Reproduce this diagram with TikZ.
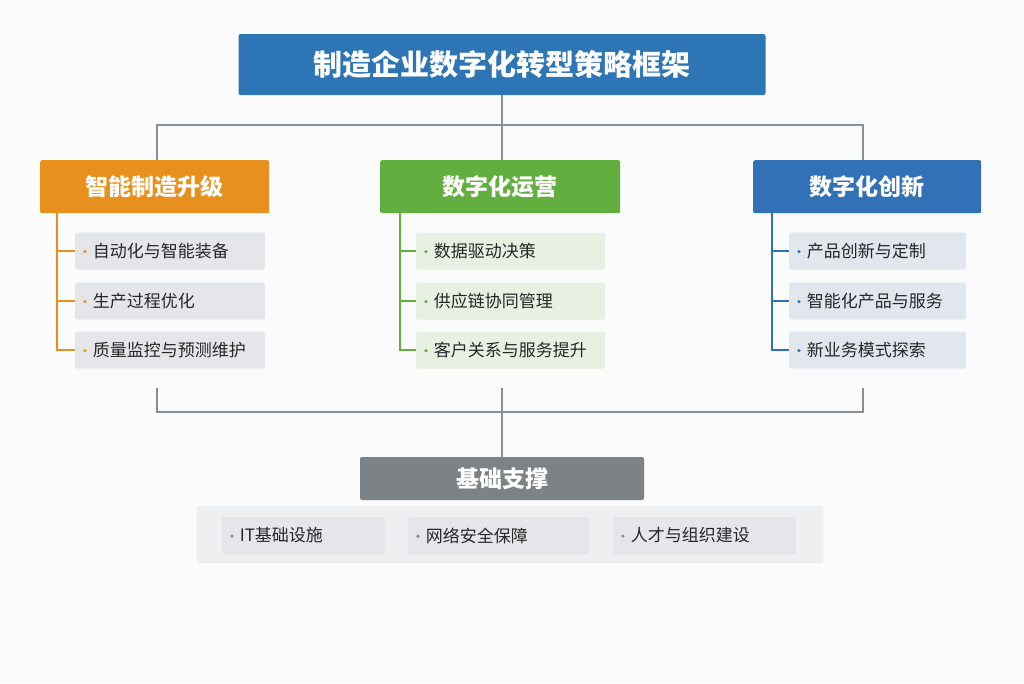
\documentclass[tikz,border=0pt]{standalone}
\usepackage{fontspec}
\setmainfont{Noto Sans CJK SC}
\usepackage{xcolor}
\definecolor{topblue}{HTML}{2E75B6}
\definecolor{catorange}{HTML}{E8901E}
\definecolor{catgreen}{HTML}{62AE3E}
\definecolor{catblue}{HTML}{3271B5}
\definecolor{basegray}{HTML}{7D8286}
\definecolor{linegray}{HTML}{8A8F93}
\definecolor{itemgray}{HTML}{E4E6E9}
\definecolor{itemgreen}{HTML}{E8F0E2}
\definecolor{itemblue}{HTML}{E2E7EE}
\definecolor{panelgray}{HTML}{EEEFF0}
\tikzset{
  catbox/.style={rounded corners=2pt, minimum height=53pt, text=white, font=\bfseries\fontsize{23}{25}\selectfont, anchor=north west},
  itembox/.style={rounded corners=2pt, minimum height=37pt, font=\fontsize{17}{19}\selectfont, anchor=west, text=black!85, inner sep=0pt},
  branch/.style={line width=1.3pt},
  link/.style={line width=1.3pt, linegray}
}
\newcommand{\itm}[2]{\hspace{8pt}\textcolor{#1}{\raisebox{4pt}{\tikz\fill (0,0) circle(1.8pt);}}\hspace{6pt}#2}
\begin{document}
\begin{tikzpicture}[x=1pt,y=-1pt]
		\fill[white!97!gray] (0,0) rectangle (1024,683);
		\useasboundingbox (0,0) rectangle (1024,683);
		% title
		\node[fill=topblue, rounded corners=2pt, minimum width=527pt, minimum height=61pt, text=white, font=\bfseries\fontsize{29}{32}\selectfont] (title) at (502,64.5) {制造企业数字化转型策略框架};
		% categories
		\node[catbox, fill=catorange, minimum width=229pt] (cat1) at (40,160) {智能制造升级};
		\node[catbox, fill=catgreen, minimum width=240pt] (cat2) at (380,160) {数字化运营};
		\node[catbox, fill=catblue, minimum width=228pt] (cat3) at (753,160) {数字化创新};
		\coordinate (top) at (502,125);
		\draw[link] (title.south) -- (top);
		\draw[link] (cat1.north -| 157,0) |- (top) -| (cat3.north -| 863,0);
		\draw[link] (top) -- (cat2.north -| 502,0);
		% items
		\node[itembox, fill=itemgray, minimum width=190pt, text width=190pt] (a1) at (75,251) {\itm{catorange}{自动化与智能装备}};
		\node[itembox, fill=itemgray, minimum width=190pt, text width=190pt] (a2) at (75,301) {\itm{catorange}{生产过程优化}};
		\node[itembox, fill=itemgray, minimum width=190pt, text width=190pt] (a3) at (75,350) {\itm{catorange}{质量监控与预测维护}};
		\node[itembox, fill=itemgreen, minimum width=189pt, text width=189pt] (b1) at (416,251) {\itm{catgreen}{数据驱动决策}};
		\node[itembox, fill=itemgreen, minimum width=189pt, text width=189pt] (b2) at (416,301) {\itm{catgreen}{供应链协同管理}};
		\node[itembox, fill=itemgreen, minimum width=189pt, text width=189pt] (b3) at (416,350) {\itm{catgreen}{客户关系与服务提升}};
		\node[itembox, fill=itemblue, minimum width=177pt, text width=177pt] (c1) at (789,251) {\itm{catblue}{产品创新与定制}};
		\node[itembox, fill=itemblue, minimum width=177pt, text width=177pt] (c2) at (789,301) {\itm{catblue}{智能化产品与服务}};
		\node[itembox, fill=itemblue, minimum width=177pt, text width=177pt] (c3) at (789,350) {\itm{catblue}{新业务模式探索}};
		\draw[branch, catorange] (cat1.south -| 57,0) |- (a3.west);
		\draw[branch, catorange] (57,0 |- a1.west) -- (a1.west);
		\draw[branch, catorange] (57,0 |- a2.west) -- (a2.west);
		\draw[branch, catgreen] (cat2.south -| 400,0) |- (b3.west);
		\draw[branch, catgreen] (400,0 |- b1.west) -- (b1.west);
		\draw[branch, catgreen] (400,0 |- b2.west) -- (b2.west);
		\draw[branch, catblue] (cat3.south -| 772,0) |- (c3.west);
		\draw[branch, catblue] (772,0 |- c1.west) -- (c1.west);
		\draw[branch, catblue] (772,0 |- c2.west) -- (c2.west);
		% base
		\node[fill=panelgray, draw=black!8, rounded corners=2pt, minimum width=626pt, minimum height=57pt] (panel) at (510,534.5) {};
		\node[fill=basegray, rounded corners=2pt, minimum width=284pt, minimum height=43pt, text=white, font=\bfseries\fontsize{23}{25}\selectfont] (base) at (502,478.5) {基础支撑};
		\coordinate (bot) at (502,412);
		\draw[link] (157,388) |- (bot) -| (863,388);
		\draw[link] (502,388) -- (bot) -- (base.north);
		\node[itembox, fill=itemgray, minimum width=163pt, text width=163pt] (d1) at (222,535.5) {\itm{linegray}{IT基础设施}};
		\node[itembox, fill=itemgray, minimum width=181pt, text width=181pt] (d2) at (408,535.5) {\itm{linegray}{网络安全保障}};
		\node[itembox, fill=itemgray, minimum width=183pt, text width=183pt] (d3) at (613,535.5) {\itm{linegray}{人才与组织建设}};
	\end{tikzpicture}
\end{document}
